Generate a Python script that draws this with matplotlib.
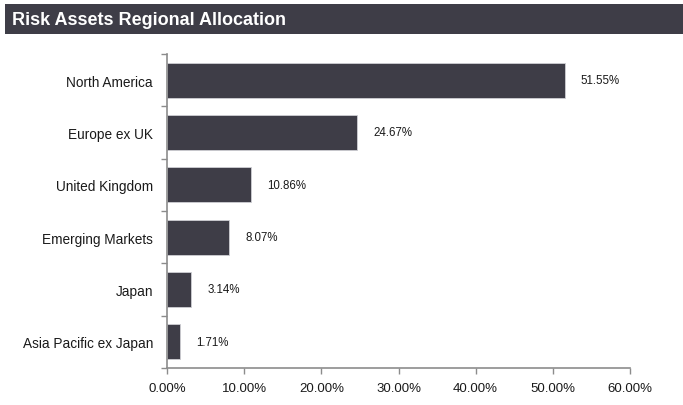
import numpy as np
import matplotlib
matplotlib.use("Agg")
import matplotlib.pyplot as plt
from matplotlib.patches import Rectangle
from matplotlib.ticker import FuncFormatter, FixedLocator

plt.rcParams['font.family'] = ['Liberation Sans Narrow', 'Liberation Sans', 'DejaVu Sans']

regions = ["North America", "Europe ex UK", "United Kingdom",
           "Emerging Markets", "Japan", "Asia Pacific ex Japan"]
weights = [51.55, 24.67, 10.86, 8.07, 3.14, 1.71]
x_ticks = [0, 10, 20, 30, 40, 50, 60]

bar_color = "#3e3d47"
axis_color = "#8c8c8c"

W, H = 683, 406
fig = plt.figure(figsize=(W / 100, H / 100), dpi=100)

# title band
fig.patches.append(Rectangle((5 / W, 1 - 35 / H), 1 - 5 / W, 30 / H,
                             transform=fig.transFigure, facecolor=bar_color,
                             edgecolor="none"))
fig.text(12 / W, 1 - 20.5 / H, "Risk Assets Regional Allocation",
         color="white", fontsize=13, fontweight="bold", va="center", ha="left")

ax = fig.add_axes([167 / W, 1 - 369 / H, (630 - 167) / W, (369 - 55) / H])

y = np.arange(len(regions))
ax.barh(y, weights, height=0.67, color=bar_color, edgecolor="#cfcfd4",
        linewidth=0.6)
ax.set_ylim(len(regions) - 0.5, -0.5)
ax.set_xlim(0, 60)

for yi, v in zip(y, weights):
    ax.annotate(f"{v:.2f}%", (v, yi), xytext=(11.5, 0),
                textcoords="offset points", va="center", ha="left",
                fontsize=8.3, color="#1a1a1a")

ax.set_yticks(y)
ax.set_yticklabels(regions, fontsize=9.8, color="#1a1a1a")
ax.yaxis.set_minor_locator(FixedLocator(np.arange(-0.5, len(regions), 1.0)))
ax.tick_params(axis="y", which="major", length=0, pad=10)
ax.tick_params(axis="y", which="minor", length=4, width=1, color=axis_color,
               direction="out")

ax.xaxis.set_major_locator(FixedLocator(x_ticks))
ax.xaxis.set_major_formatter(FuncFormatter(lambda v, p: f"{v:.2f}%"))
ax.tick_params(axis="x", length=4, width=1, color=axis_color, labelsize=9.5,
               labelcolor="#1a1a1a", pad=6)

for s in ["top", "right"]:
    ax.spines[s].set_visible(False)
for s in ["left", "bottom"]:
    ax.spines[s].set_color(axis_color)
    ax.spines[s].set_linewidth(1.2)

fig.savefig("out.png", dpi=100)
